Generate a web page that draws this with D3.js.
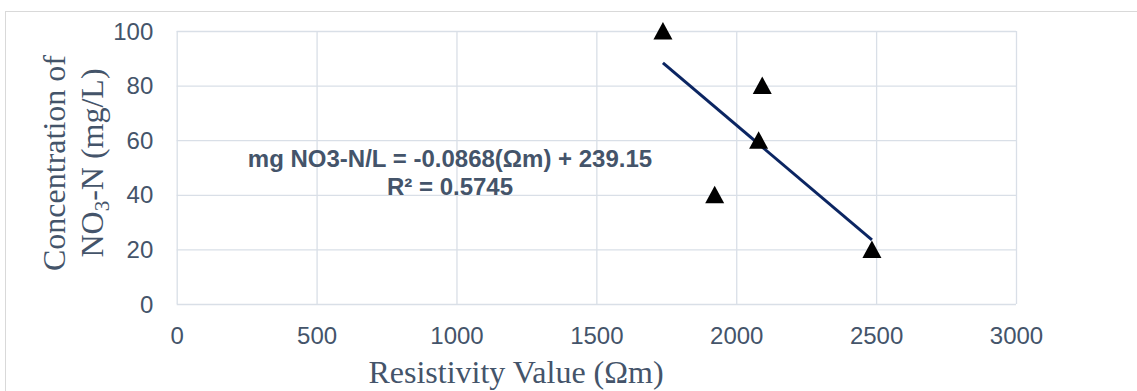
<!DOCTYPE html>
<html><head><meta charset="utf-8">
<script src="https://cdn.jsdelivr.net/npm/d3@7"></script>
<style>body{margin:0;background:#fff;} svg{display:block}</style>
</head><body><svg id="c" width="1137" height="391"></svg>
<script>
const resistivity = [1738, 2093, 2080, 1923, 2485];
const concentration = [100, 80, 60, 40, 20];
const xTicks = [0, 500, 1000, 1500, 2000, 2500, 3000];
const yTicks = [0, 20, 40, 60, 80, 100];
const trendSlope = -0.0868;
const trendIntercept = 239.15;
const equationLines = ["mg NO3-N/L = -0.0868(Ωm) + 239.15", "R² = 0.5745"];
const xTitle = "Resistivity Value (Ωm)";

const points = resistivity.map((r, i) => ({x: r, y: concentration[i]}));

const svg = d3.select("#c");
const L = 176.7, R = 1016, T = 31, B = 304;
const x = d3.scaleLinear().domain([0, 3000]).range([L, R]);
const y = d3.scaleLinear().domain([0, 100]).range([B, T]);
const txt = "#44546a", grid = "#d9dfe7";
const sans = "Liberation Sans, Arial, sans-serif", serif = "Liberation Serif, Times New Roman, serif";

// outer chart border
svg.append("rect").attr("x", 5.5).attr("y", 11.5).attr("width", 1200).attr("height", 500)
  .attr("fill", "none").attr("stroke", "#d9d9d9").attr("stroke-width", 1);

// y axis + horizontal grid
const gy = svg.append("g").attr("transform", `translate(${L},0)`)
  .call(d3.axisLeft(y).tickValues(yTicks).tickFormat(d3.format("d")).tickSize(-(R - L)).tickPadding(23.4));
gy.select(".domain").remove();
gy.selectAll(".tick line").attr("stroke", grid).attr("stroke-width", 1.3);
gy.selectAll(".tick text").attr("fill", txt).attr("font-family", sans)
  .attr("font-size", 24).attr("dy", null).attr("y", 8);

// x axis + vertical grid
const gx = svg.append("g").attr("transform", `translate(0,${B})`)
  .call(d3.axisBottom(x).tickValues(xTicks).tickFormat(d3.format("d")).tickSize(-(B - T)).tickPadding(0));
gx.select(".domain").remove();
gx.selectAll(".tick line").attr("stroke", grid).attr("stroke-width", 1.3);
gx.selectAll(".tick text").attr("fill", txt).attr("font-family", sans)
  .attr("font-size", 24).attr("dy", null).attr("y", 40);

// trendline
const xMin = d3.min(resistivity), xMax = d3.max(resistivity);
svg.append("line")
  .attr("x1", x(xMin)).attr("y1", y(trendSlope * xMin + trendIntercept))
  .attr("x2", x(xMax)).attr("y2", y(trendSlope * xMax + trendIntercept))
  .attr("stroke", "#0b2562").attr("stroke-width", 3);

// markers
svg.append("g").selectAll("path").data(points).join("path")
  .attr("transform", d => `translate(${x(d.x)},${y(d.y)})`)
  .attr("d", "M0,-9L9.5,8.5L-9.5,8.5Z").attr("fill", "#000");

// equation
const eq = svg.append("text").attr("text-anchor", "middle").attr("fill", txt)
  .attr("font-family", sans).attr("font-weight", "bold").attr("font-size", 24);
equationLines.forEach((s, i) => eq.append("tspan").attr("x", 450).attr("y", 167 + i * 28).text(s));

// x title
svg.append("text").attr("x", 516).attr("y", 383).attr("text-anchor", "middle").attr("fill", txt)
  .attr("font-family", serif).attr("font-size", 32).text(xTitle);

// y title (two lines)
const yt1 = svg.append("text").attr("transform", "translate(0,163) rotate(-90)")
  .attr("text-anchor", "middle").attr("fill", txt).attr("font-family", serif).attr("font-size", 32)
  .attr("x", 0).attr("y", 65).text("Concentration of");
const yt2 = svg.append("text").attr("transform", "translate(0,163) rotate(-90)")
  .attr("text-anchor", "middle").attr("fill", txt).attr("font-family", serif).attr("font-size", 32)
  .attr("x", 0).attr("y", 102.7);
yt2.append("tspan").text("NO");
yt2.append("tspan").attr("font-size", 21).attr("dy", 6).text("3");
yt2.append("tspan").attr("dy", -6).text("-N (mg/L)");
</script></body></html>
